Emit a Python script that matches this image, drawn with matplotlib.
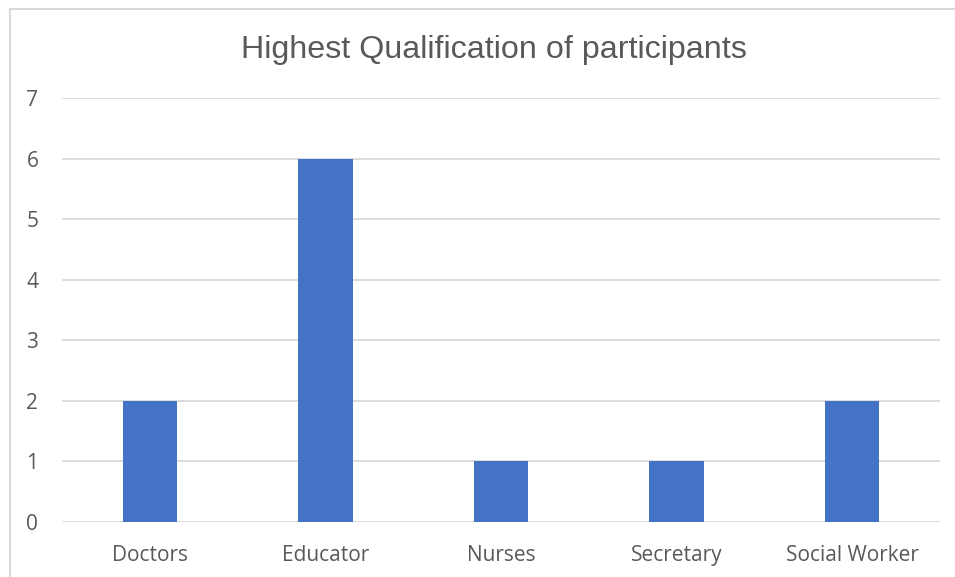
import matplotlib
matplotlib.use("Agg")
import matplotlib.pyplot as plt
from matplotlib.lines import Line2D

categories = ["Doctors", "Educator", "Nurses", "Secretary", "Social Worker"]
counts = [2, 6, 1, 1, 2]
y_ticks = [0, 1, 2, 3, 4, 5, 6, 7]
title = "Highest Qualification of participants"

bar_color = "#4472C4"
text_color = "#595959"
grid_color = "#D9D9D9"

fig = plt.figure(figsize=(9.55, 5.77), dpi=100)
ax = fig.add_axes([0.0649, 0.0953, 0.984 - 0.0649, 0.8302 - 0.0953])

x = list(range(len(categories)))
ax.bar(x, counts, width=0.31, color=bar_color, zorder=3)
ax.set_xlim(-0.5, len(categories) - 0.5)
ax.set_ylim(0, 7)
ax.set_yticks(y_ticks)
ax.set_xticks(x)
ax.set_xticklabels(categories)

for s in ax.spines.values():
    s.set_visible(False)
ax.grid(axis="y", color=grid_color, linewidth=1.3, zorder=0)
ax.tick_params(axis="both", length=0, colors=text_color, labelsize=15)
ax.tick_params(axis="y", pad=17)
ax.tick_params(axis="x", pad=16.5)
for lbl in ax.get_xticklabels() + ax.get_yticklabels():
    lbl.set_fontfamily("Open Sans")

fig.text(0.517, 0.914, title, ha="center", va="center", fontsize=23.2,
         family="Liberation Sans", color=text_color)

# chart frame (left and top edges)
fig.add_artist(Line2D([9.5 / 955, 9.5 / 955], [0, 1 - 8.5 / 577], transform=fig.transFigure,
                      color=grid_color, linewidth=1.5))
fig.add_artist(Line2D([9.5 / 955, 1], [1 - 8.5 / 577, 1 - 8.5 / 577], transform=fig.transFigure,
                      color=grid_color, linewidth=1.5))

fig.savefig("out.png", dpi=100, facecolor="white")
